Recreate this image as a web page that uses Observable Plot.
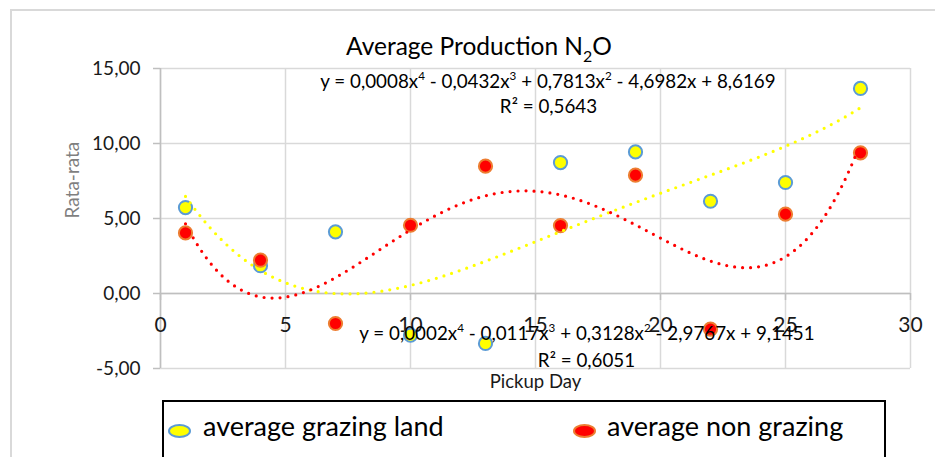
<!DOCTYPE html>
<html>
<head>
<meta charset="utf-8">
<script src="https://cdn.jsdelivr.net/npm/d3@7"></script>
<script src="https://cdn.jsdelivr.net/npm/@observablehq/plot@0.6"></script>
<style>
  html, body { margin: 0; padding: 0; background: #fff; }
  #wrap { position: relative; width: 935px; height: 457px; overflow: hidden; background: #fff; font-family: Lato, "Open Sans", sans-serif; }
  #chart { position: absolute; left: 0; top: 0; }
  #frame { position: absolute; left: 10px; top: 9px; width: 1000px; height: 1000px; border: 2px solid #d9d9d9; pointer-events: none; }
  #legend { position: absolute; left: 162px; top: 400px; width: 720px; height: 90px; border: 2px solid #000; background: #fff; }
  .mk { position: absolute; width: 19px; height: 10px; border-radius: 50%; border-width: 2px; border-style: solid; top: 22px; }
  .tx { position: absolute; white-space: nowrap; font-size: 27px; color: #000; top: 7px; line-height: 34px; }
</style>
</head>
<body>
<div id="wrap">
  <div id="chart"></div>
  <div id="frame"></div>
  <div id="legend"></div>
</div>
<script>
// ---- data ----
const days = [1, 4, 7, 10, 13, 16, 19, 22, 25, 28];
const grazing = [5.73, 1.85, 4.11, -2.78, -3.33, 8.73, 9.44, 6.15, 7.40, 13.67];
const nonGrazing = [4.04, 2.22, -2.00, 4.55, 8.49, 4.53, 7.89, -2.38, 5.29, 9.38];
const xTicks = [0, 5, 10, 15, 20, 25, 30];
const yTicks = [-5, 0, 5, 10, 15];
const seriesNames = ["average grazing land", "average non grazing"];
const eqNonGrazing = ["y = 0,0008x^4 - 0,0432x^3 + 0,7813x^2 - 4,6982x + 8,6169", "R² = 0,5643"];
const eqGrazing = ["y = 0,0002x^4 - 0,0117x^3 + 0,3128x^2 - 2,9767x + 9,1451", "R² = 0,6051"];
const titleText = ["Average Production N", "2", "O"];
const xLabel = "Pickup Day";
const yLabel = "Rata-rata";

const colors = {
  grazingFill: "#ffff00", grazingStroke: "#5b9bd5",
  nonFill: "#ff0000", nonStroke: "#ed7d31",
  grid: "#d9d9d9", axis: "#bfbfbf"
};

// order-4 polynomial least-squares fit (as the spreadsheet trendline does)
function polyfit(xs, ys, deg) {
  const mx = d3.mean(xs), sx = (d3.max(xs) - d3.min(xs)) / 2;
  const n = deg + 1;
  const A = Array.from({length: n}, () => new Array(n + 1).fill(0));
  xs.forEach((x, k) => {
    const t = (x - mx) / sx;
    const p = d3.range(n).map(i => t ** i);
    for (let i = 0; i < n; i++) {
      for (let j = 0; j < n; j++) A[i][j] += p[i] * p[j];
      A[i][n] += p[i] * ys[k];
    }
  });
  for (let i = 0; i < n; i++) {
    let m = i;
    for (let r = i + 1; r < n; r++) if (Math.abs(A[r][i]) > Math.abs(A[m][i])) m = r;
    [A[i], A[m]] = [A[m], A[i]];
    for (let r = 0; r < n; r++) {
      if (r === i) continue;
      const f = A[r][i] / A[i][i];
      for (let c = i; c <= n; c++) A[r][c] -= f * A[i][c];
    }
  }
  const coef = A.map((row, i) => row[n] / row[i]);
  return x => { const t = (x - mx) / sx; return coef.reduce((s, c, i) => s + c * t ** i, 0); };
}
const fitG = polyfit(days, grazing, 4);
const fitN = polyfit(days, nonGrazing, 4);
const xs = d3.range(d3.min(days), d3.max(days) + 1e-9, 0.1);
const trendG = xs.map(x => ({x, y: fitG(x)}));
const trendN = xs.map(x => ({x, y: fitN(x)}));

const fmt = d => d.toFixed(2).replace(".", ",");
const FONT = "Lato, 'Open Sans', sans-serif";

const plot = Plot.plot({
  width: 935, height: 457,
  marginLeft: 160, marginRight: 25, marginTop: 68, marginBottom: 89,
  style: {background: "transparent", fontFamily: FONT, overflow: "visible"},
  x: {domain: [xTicks[0], xTicks[xTicks.length - 1]], axis: null},
  y: {domain: [yTicks[0], yTicks[yTicks.length - 1]], axis: null},
  marks: [
    Plot.ruleX(xTicks, {stroke: colors.grid, strokeWidth: 1.5}),
    Plot.ruleY(yTicks, {stroke: colors.grid, strokeWidth: 1.5}),
    Plot.ruleX([xTicks[0]], {stroke: colors.axis, strokeWidth: 1.5}),
    Plot.ruleY([0], {stroke: colors.axis, strokeWidth: 1.5}),
    Plot.ruleY(yTicks, {x1: xTicks[0], x2: xTicks[0], insetLeft: -7, stroke: colors.axis, strokeWidth: 1.5}),
    Plot.ruleX(xTicks, {y1: 0, y2: 0, insetBottom: -7, stroke: colors.axis, strokeWidth: 1.5}),
    Plot.text(yTicks, {y: d => d, frameAnchor: "left", dx: -20, textAnchor: "end", text: fmt, fontSize: 19, fill: "#1a1a1a"}),
    Plot.text(xTicks, {x: d => d, y: () => 0, dy: 32, text: d => String(d), fontSize: 21, fill: "#1a1a1a"}),
    Plot.text([xLabel], {frameAnchor: "bottom", dy: 19, text: d => d, fontSize: 18.5, fill: "#1a1a1a"}),
    Plot.text([yLabel], {frameAnchor: "left", dx: -87.6, rotate: -90, text: d => d, fontSize: 19, fill: "#7f7f7f"}),
    Plot.dot(days, {x: d => d, y: (d, i) => grazing[i], r: 6.6, fill: colors.grazingFill, stroke: colors.grazingStroke, strokeWidth: 2}),
    Plot.dot(days, {x: d => d, y: (d, i) => nonGrazing[i], r: 6.6, fill: colors.nonFill, stroke: colors.nonStroke, strokeWidth: 2}),
    Plot.line(trendG, {x: "x", y: "y", stroke: colors.grazingFill, strokeWidth: 3.2, strokeDasharray: "0 8", strokeLinecap: "round"}),
    Plot.line(trendN, {x: "x", y: "y", stroke: colors.nonFill, strokeWidth: 3.2, strokeDasharray: "0 8", strokeLinecap: "round"})
  ]
});
document.getElementById("chart").appendChild(plot);

// ---- annotations (title and trendline equations) as real SVG text ----
const svg = d3.select(plot);
function richText(cx, baseline, str, size) {
  const t = svg.append("text")
    .attr("x", cx).attr("y", baseline)
    .attr("text-anchor", "middle")
    .attr("font-family", FONT).attr("font-size", size).attr("fill", "#000");
  const parts = str.split(/\^(\d)/);
  let pendingDy = 0;
  parts.forEach((p, i) => {
    if (p === "") return;
    if (i % 2 === 1) {
      t.append("tspan").attr("font-size", size * 0.62).attr("dy", -size * 0.42).text(p);
      pendingDy = size * 0.42;
    } else {
      const s = t.append("tspan").text(p);
      if (pendingDy) { s.attr("dy", pendingDy); pendingDy = 0; }
    }
  });
  return t;
}
// title with subscript
{
  const size = 24.5;
  const t = svg.append("text").attr("x", 479).attr("y", 55)
    .attr("text-anchor", "middle").attr("font-family", FONT).attr("font-size", size).attr("fill", "#000");
  t.append("tspan").text(titleText[0]);
  t.append("tspan").attr("font-size", size * 0.65).attr("dy", 7).text(titleText[1]);
  t.append("tspan").attr("dy", -7).text(titleText[2]);
}
richText(548, 87.5, eqNonGrazing[0], 18.8);
richText(548.5, 113, eqNonGrazing[1], 18.8);
richText(587, 340, eqGrazing[0], 18.8);
richText(586.5, 366.5, eqGrazing[1], 18.8);

// ---- legend ----
const legend = d3.select("#legend");
const legendItems = [
  {name: seriesNames[0], fill: colors.grazingFill, stroke: colors.grazingStroke, mx: 4, tx: 39},
  {name: seriesNames[1], fill: colors.nonFill, stroke: colors.nonStroke, mx: 409, tx: 443}
];
legendItems.forEach(d => {
  legend.append("div").attr("class", "mk")
    .style("left", d.mx + "px").style("background", d.fill).style("border-color", d.stroke);
  legend.append("div").attr("class", "tx").style("left", d.tx + "px").text(d.name);
});
</script>
</body>
</html>
